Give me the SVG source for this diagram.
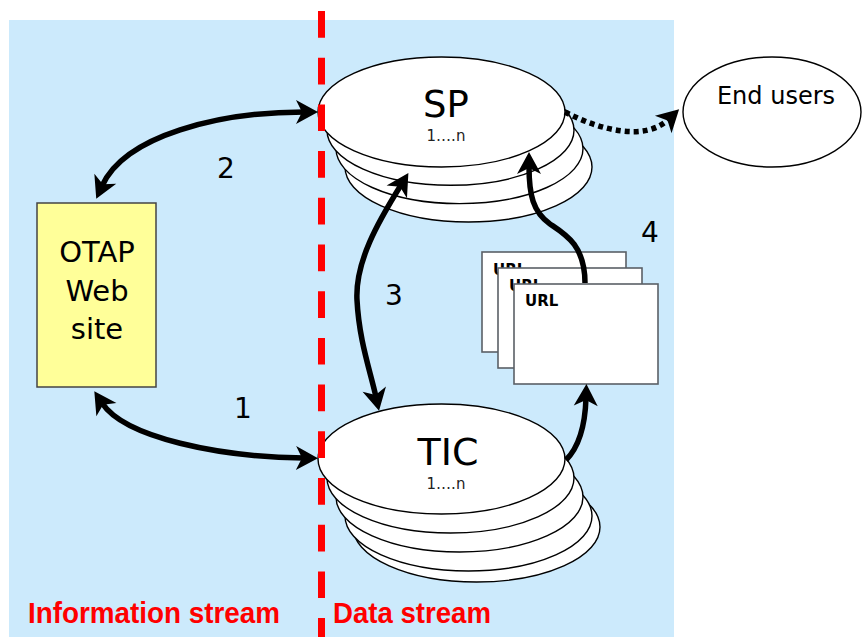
<svg xmlns="http://www.w3.org/2000/svg" width="862" height="637" viewBox="0 0 862 637">
  <style>
    .disc { fill: #ffffff; stroke: #000000; stroke-width: 1.4; }
    .card { fill: #ffffff; stroke: #5a6066; stroke-width: 1.6; }
    .lbl { font-family: "DejaVu Sans", "Noto Sans", sans-serif; fill: #000000; text-anchor: middle; }
    .small { font-family: "DejaVu Sans", "Noto Sans", sans-serif; font-size: 15px; fill: #222222; text-anchor: middle; }
    .url { font-family: "DejaVu Sans", sans-serif; font-size: 15px; font-weight: bold; fill: #000000; }
    .num { font-family: "DejaVu Sans", sans-serif; font-size: 28px; fill: #000000; text-anchor: middle; }
    .zone { font-family: "Liberation Sans", Arial, sans-serif; font-size: 30px; font-weight: bold; fill: #ff0000; }
    .link { fill: none; stroke: #000000; stroke-width: 5.5; stroke-linecap: butt; }
  </style>
  <defs>
    <marker id="head" viewBox="-10 -14 26 28" refX="0" refY="0" markerWidth="26" markerHeight="28" markerUnits="userSpaceOnUse" orient="auto-start-reverse">
      <path d="M -8,-12 L 14,0 L -8,12 L -2,0 z" fill="#000000"/>
    </marker>
  </defs>

  <!-- white page with the light blue working area -->
  <rect x="0" y="0" width="862" height="637" fill="#ffffff"/>
  <rect x="9" y="20" width="665" height="617" fill="#cceafc"/>

  <!-- OTAP web site -->
  <g id="otap">
    <rect x="37" y="203" width="119" height="184" fill="#ffff99" stroke="#444444" stroke-width="1.5"/>
    <text class="lbl" x="97" y="262" font-size="29">OTAP</text>
    <text class="lbl" x="97" y="301" font-size="29">Web</text>
    <text class="lbl" x="97" y="339" font-size="29">site</text>
  </g>

  <!-- SP stack -->
  <g id="sp">
    <ellipse class="disc" cx="468.5" cy="167" rx="123.5" ry="55"/>
    <ellipse class="disc" cx="459.5" cy="148.6" rx="123.5" ry="55"/>
    <ellipse class="disc" cx="450.5" cy="130.3" rx="123.5" ry="55"/>
    <ellipse class="disc" cx="441.5" cy="112" rx="123.5" ry="55"/>
    <text class="lbl" x="446" y="117" font-size="37">SP</text>
    <text class="small" x="446" y="141">1….n</text>
  </g>

  <!-- TIC stack -->
  <g id="tic">
    <ellipse class="disc" cx="476.5" cy="527" rx="123.5" ry="55"/>
    <ellipse class="disc" cx="468.5" cy="516" rx="123.5" ry="55"/>
    <ellipse class="disc" cx="459.5" cy="497" rx="123.5" ry="55"/>
    <ellipse class="disc" cx="450.5" cy="478" rx="123.5" ry="55"/>
    <ellipse class="disc" cx="441.5" cy="459" rx="123.5" ry="55"/>
    <text class="lbl" x="448" y="465" font-size="38">TIC</text>
    <text class="small" x="446" y="489">1….n</text>
  </g>

  <!-- URL documents -->
  <g id="urls">
    <rect class="card" x="482" y="252" width="144" height="100"/>
    <text class="url" x="493" y="275">URL</text>
    <rect class="card" x="498" y="268" width="144" height="100"/>
    <text class="url" x="509" y="291">URL</text>
    <rect class="card" x="514" y="284" width="144" height="100"/>
    <text class="url" x="525" y="306">URL</text>
  </g>

  <!-- End users -->
  <g id="end-users">
    <ellipse class="disc" cx="772" cy="112" rx="89" ry="55"/>
    <text class="lbl" x="776" y="104" font-size="24">End users</text>
  </g>

  <!-- connectors -->
  <g id="connectors">
    <path class="link" d="M 102,403 C 125,438 220,457 304,458" marker-start="url(#head)" marker-end="url(#head)"/>
    <path class="link" d="M 102,186 C 125,135 220,112 304,112" marker-start="url(#head)" marker-end="url(#head)"/>
    <path class="link" d="M 401,185 C 378,222 355,262 357,300 C 359,340 370,370 376,397" marker-start="url(#head)" marker-end="url(#head)"/>
    <path class="link" d="M 585,283 C 585,245 565,234 550,224 C 533,212 529,195 529,166" marker-end="url(#head)"/>
    <path class="link" d="M 566,460 C 578,448 585,430 586,398" marker-end="url(#head)"/>
    <path class="link" d="M 565,112 C 600,130 645,142 669,119" stroke-dasharray="5 4" marker-end="url(#head)"/>
  </g>

  <!-- step numbers -->
  <g id="steps">
    <text class="num" x="243" y="418">1</text>
    <text class="num" x="226" y="178">2</text>
    <text class="num" x="394" y="305">3</text>
    <text class="num" x="650" y="242">4</text>
  </g>

  <!-- boundary between the two streams -->
  <line x1="321.5" y1="11" x2="321.5" y2="637" stroke="#ff0000" stroke-width="7" stroke-dasharray="26.7 20"/>

  <text class="zone" x="28" y="623" textLength="252" lengthAdjust="spacingAndGlyphs">Information stream</text>
  <text class="zone" x="333" y="623" textLength="158" lengthAdjust="spacingAndGlyphs">Data stream</text>
</svg>
